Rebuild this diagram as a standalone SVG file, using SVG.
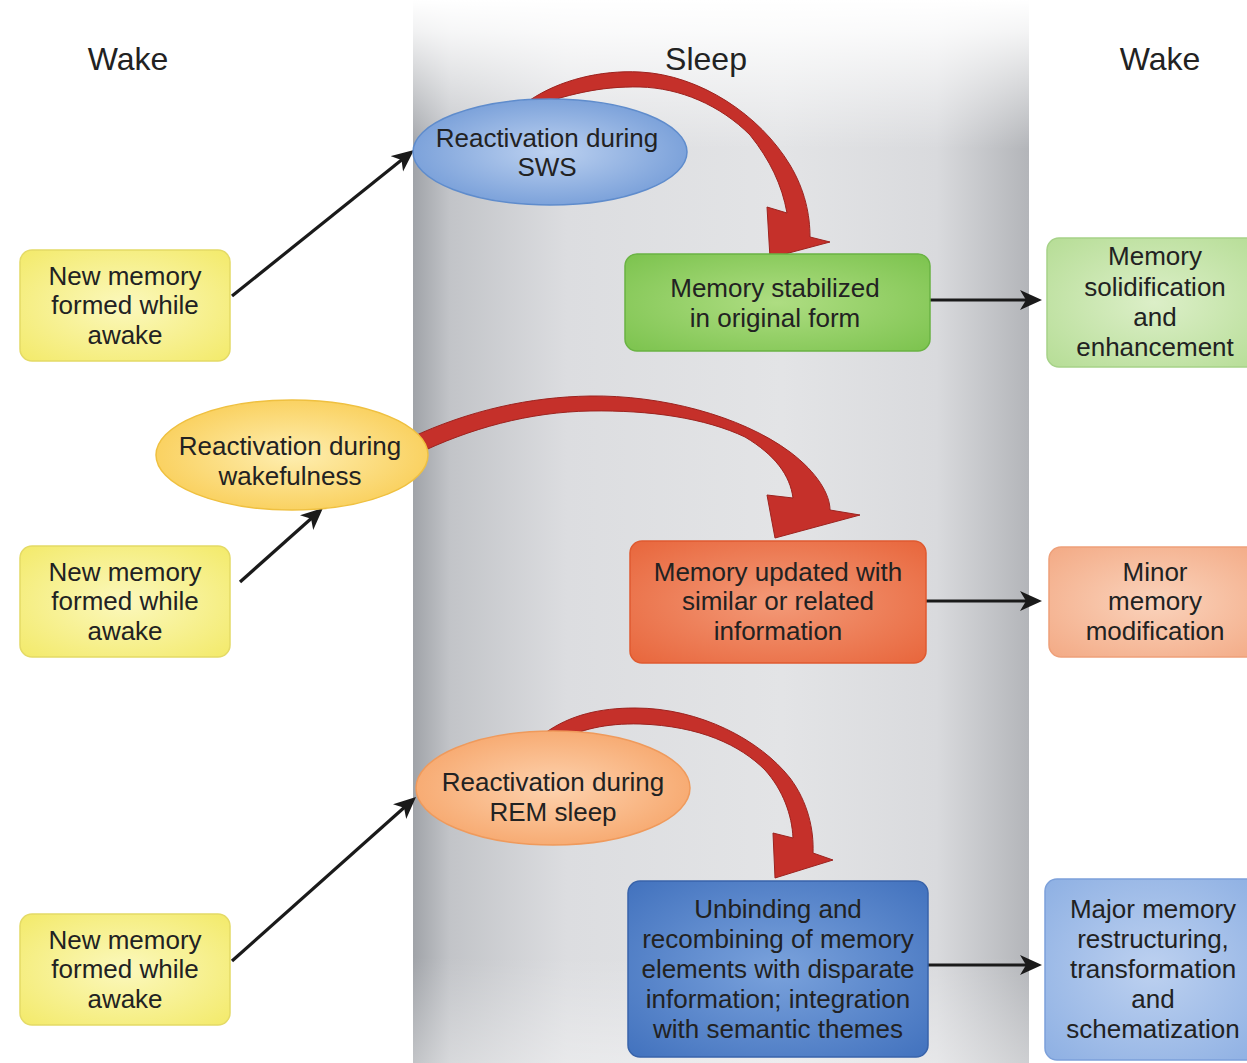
<svg xmlns="http://www.w3.org/2000/svg" width="1247" height="1063" viewBox="0 0 1247 1063">
<defs>
<linearGradient id="band" x1="0" y1="0" x2="1" y2="0">
<stop offset="0" stop-color="#a0a3a8"/>
<stop offset="0.06" stop-color="#c2c4c8"/>
<stop offset="0.25" stop-color="#dcdde0"/>
<stop offset="0.6" stop-color="#e3e4e6"/>
<stop offset="0.85" stop-color="#d9dadd"/>
<stop offset="1" stop-color="#b3b5b9"/>
</linearGradient>
<linearGradient id="bandV" x1="0" y1="0" x2="0" y2="1">
<stop offset="0" stop-color="#ffffff" stop-opacity="1"/>
<stop offset="0.03" stop-color="#ffffff" stop-opacity="0.85"/>
<stop offset="0.14" stop-color="#ffffff" stop-opacity="0"/>
<stop offset="0.9" stop-color="#ffffff" stop-opacity="0"/>
<stop offset="1" stop-color="#ffffff" stop-opacity="0.35"/>
</linearGradient>
<radialGradient id="gYel" cx="0.5" cy="0.5" r="0.7"><stop offset="0" stop-color="#fbf8bd"/><stop offset="1" stop-color="#f3ea6a"/></radialGradient>
<radialGradient id="gBlueE" cx="0.5" cy="0.5" r="0.6"><stop offset="0" stop-color="#bcd1f0"/><stop offset="1" stop-color="#7099d6"/></radialGradient>
<radialGradient id="gGreen" cx="0.5" cy="0.5" r="0.7"><stop offset="0" stop-color="#aedd82"/><stop offset="1" stop-color="#7cc34e"/></radialGradient>
<radialGradient id="gLGreen" cx="0.5" cy="0.5" r="0.7"><stop offset="0" stop-color="#dcefc8"/><stop offset="1" stop-color="#b6dd96"/></radialGradient>
<radialGradient id="gYelE" cx="0.5" cy="0.5" r="0.6"><stop offset="0" stop-color="#feeeb0"/><stop offset="1" stop-color="#f9cc52"/></radialGradient>
<radialGradient id="gOrange" cx="0.5" cy="0.5" r="0.7"><stop offset="0" stop-color="#f39a78"/><stop offset="1" stop-color="#e8663c"/></radialGradient>
<radialGradient id="gLOrange" cx="0.5" cy="0.5" r="0.7"><stop offset="0" stop-color="#fad3bc"/><stop offset="1" stop-color="#f3aa85"/></radialGradient>
<radialGradient id="gRemE" cx="0.5" cy="0.5" r="0.6"><stop offset="0" stop-color="#fdd2ae"/><stop offset="1" stop-color="#f6a468"/></radialGradient>
<radialGradient id="gBlue" cx="0.5" cy="0.5" r="0.7"><stop offset="0" stop-color="#7aa2dc"/><stop offset="1" stop-color="#4272be"/></radialGradient>
<radialGradient id="gLBlue" cx="0.5" cy="0.5" r="0.7"><stop offset="0" stop-color="#bdd1f0"/><stop offset="1" stop-color="#8eb0e3"/></radialGradient>
<marker id="ah" markerUnits="userSpaceOnUse" markerWidth="26" markerHeight="24" refX="16" refY="10" orient="auto">
<path d="M0,0 L22,10 L0,20 L6,10 Z" fill="#1a1a1a"/>
</marker>
</defs>
<style>
text{font-family:"Liberation Sans",Arial,sans-serif;font-size:26px;fill:#222;text-anchor:middle}
.hdr{font-size:32px}
.ln{stroke:#1a1a1a;stroke-width:3.2;fill:none}
.red{fill:#c5302a;stroke:#9c231f;stroke-width:1}
</style>
<rect width="1247" height="1063" fill="#ffffff"/>
<rect id="sleep-band" x="413" y="0" width="616" height="1063" fill="url(#band)"/>
<rect x="413" y="0" width="616" height="1063" fill="url(#bandV)"/>
<g id="headers">
<text class="hdr" x="128" y="70">Wake</text>
<text class="hdr" x="706" y="70">Sleep</text>
<text class="hdr" x="1160" y="70">Wake</text>
</g>
<g id="connectors">
<path class="red" d="M530 100 C560 80,600 70,640 72 C700 75,760 115,790 165 C805 190,810 215,810 237 L830 242 L770 258 L767 207 L787 213 C782 185,770 160,750 135 C720 105,680 88,640 87 C600 86,565 95,530 108 Z"/>
<path class="red" d="M410 438 C470 410,530 397,590 396 C660 395,740 415,790 452 C818 473,830 495,830 510 L860 515 L775 538 L767 495 L793 498 C790 475,775 455,745 437 C705 418,650 410,590 411 C530 412,470 428,415 455 Z"/>
<path class="red" d="M545 733 C570 715,600 708,635 708 C700 708,760 740,790 778 C808 802,814 830,813 853 L833 860 L775 878 L773 833 L793 838 C792 815,783 790,765 770 C740 745,700 726,640 724 C605 723,580 730,560 740 Z"/>
<line class="ln" x1="232" y1="296" x2="409.3" y2="153.8" marker-end="url(#ah)"/>
<line class="ln" x1="240" y1="582" x2="318.5" y2="512" marker-end="url(#ah)"/>
<line class="ln" x1="232" y1="961" x2="411.5" y2="801" marker-end="url(#ah)"/>
<line class="ln" x1="930" y1="300" x2="1036" y2="300" marker-end="url(#ah)"/>
<line class="ln" x1="926" y1="601" x2="1036" y2="601" marker-end="url(#ah)"/>
<line class="ln" x1="916" y1="965" x2="1036" y2="965" marker-end="url(#ah)"/>
</g>
<g id="new-memory-1">
<rect x="20" y="250" width="210" height="111" rx="12" fill="url(#gYel)" stroke="#e4da66" stroke-width="1.5"/>
<text x="125" y="285">New memory</text><text x="125" y="314">formed while</text><text x="125" y="344">awake</text>
</g>
<g id="new-memory-2">
<rect x="20" y="546" width="210" height="111" rx="12" fill="url(#gYel)" stroke="#e4da66" stroke-width="1.5"/>
<text x="125" y="581">New memory</text><text x="125" y="610">formed while</text><text x="125" y="640">awake</text>
</g>
<g id="new-memory-3">
<rect x="20" y="914" width="210" height="111" rx="12" fill="url(#gYel)" stroke="#e4da66" stroke-width="1.5"/>
<text x="125" y="949">New memory</text><text x="125" y="978">formed while</text><text x="125" y="1008">awake</text>
</g>
<g id="reactivation-sws">
<ellipse cx="550" cy="152" rx="137" ry="53" fill="url(#gBlueE)" stroke="#5f8ccc" stroke-width="1.5"/>
<text x="547" y="147">Reactivation during</text><text x="547" y="176">SWS</text>
</g>
<g id="reactivation-wake">
<ellipse cx="292" cy="455" rx="136" ry="55" fill="url(#gYelE)" stroke="#efc040" stroke-width="1.5"/>
<text x="290" y="455">Reactivation during</text><text x="290" y="485">wakefulness</text>
</g>
<g id="reactivation-rem">
<ellipse cx="553" cy="788" rx="137" ry="57" fill="url(#gRemE)" stroke="#ef9a5c" stroke-width="1.5"/>
<text x="553" y="791">Reactivation during</text><text x="553" y="821">REM sleep</text>
</g>
<g id="stabilized">
<rect x="625" y="254" width="305" height="97" rx="12" fill="url(#gGreen)" stroke="#6ab343" stroke-width="1.5"/>
<text x="775" y="297">Memory stabilized</text><text x="775" y="327">in original form</text>
</g>
<g id="updated">
<rect x="630" y="541" width="296" height="122" rx="12" fill="url(#gOrange)" stroke="#df5a30" stroke-width="1.5"/>
<text x="778" y="581">Memory updated with</text><text x="778" y="610">similar or related</text><text x="778" y="640">information</text>
</g>
<g id="unbinding">
<rect x="628" y="881" width="300" height="176" rx="12" fill="url(#gBlue)" stroke="#3863aa" stroke-width="1.5"/>
<text x="778" y="918">Unbinding and</text><text x="778" y="948">recombining of memory</text><text x="778" y="978">elements with disparate</text><text x="778" y="1008">information; integration</text><text x="778" y="1038">with semantic themes</text>
</g>
<g id="solidification">
<rect x="1047" y="238" width="215" height="129" rx="12" fill="url(#gLGreen)" stroke="#a6d288" stroke-width="1.5"/>
<text x="1155" y="265">Memory</text><text x="1155" y="296">solidification</text><text x="1155" y="326">and</text><text x="1155" y="356">enhancement</text>
</g>
<g id="minor">
<rect x="1049" y="547" width="215" height="110" rx="12" fill="url(#gLOrange)" stroke="#eea07a" stroke-width="1.5"/>
<text x="1155" y="581">Minor</text><text x="1155" y="610">memory</text><text x="1155" y="640">modification</text>
</g>
<g id="major">
<rect x="1045" y="879" width="215" height="181" rx="12" fill="url(#gLBlue)" stroke="#7ca0da" stroke-width="1.5"/>
<text x="1153" y="918">Major memory</text><text x="1153" y="948">restructuring,</text><text x="1153" y="978">transformation</text><text x="1153" y="1008">and</text><text x="1153" y="1038">schematization</text>
</g>
</svg>
